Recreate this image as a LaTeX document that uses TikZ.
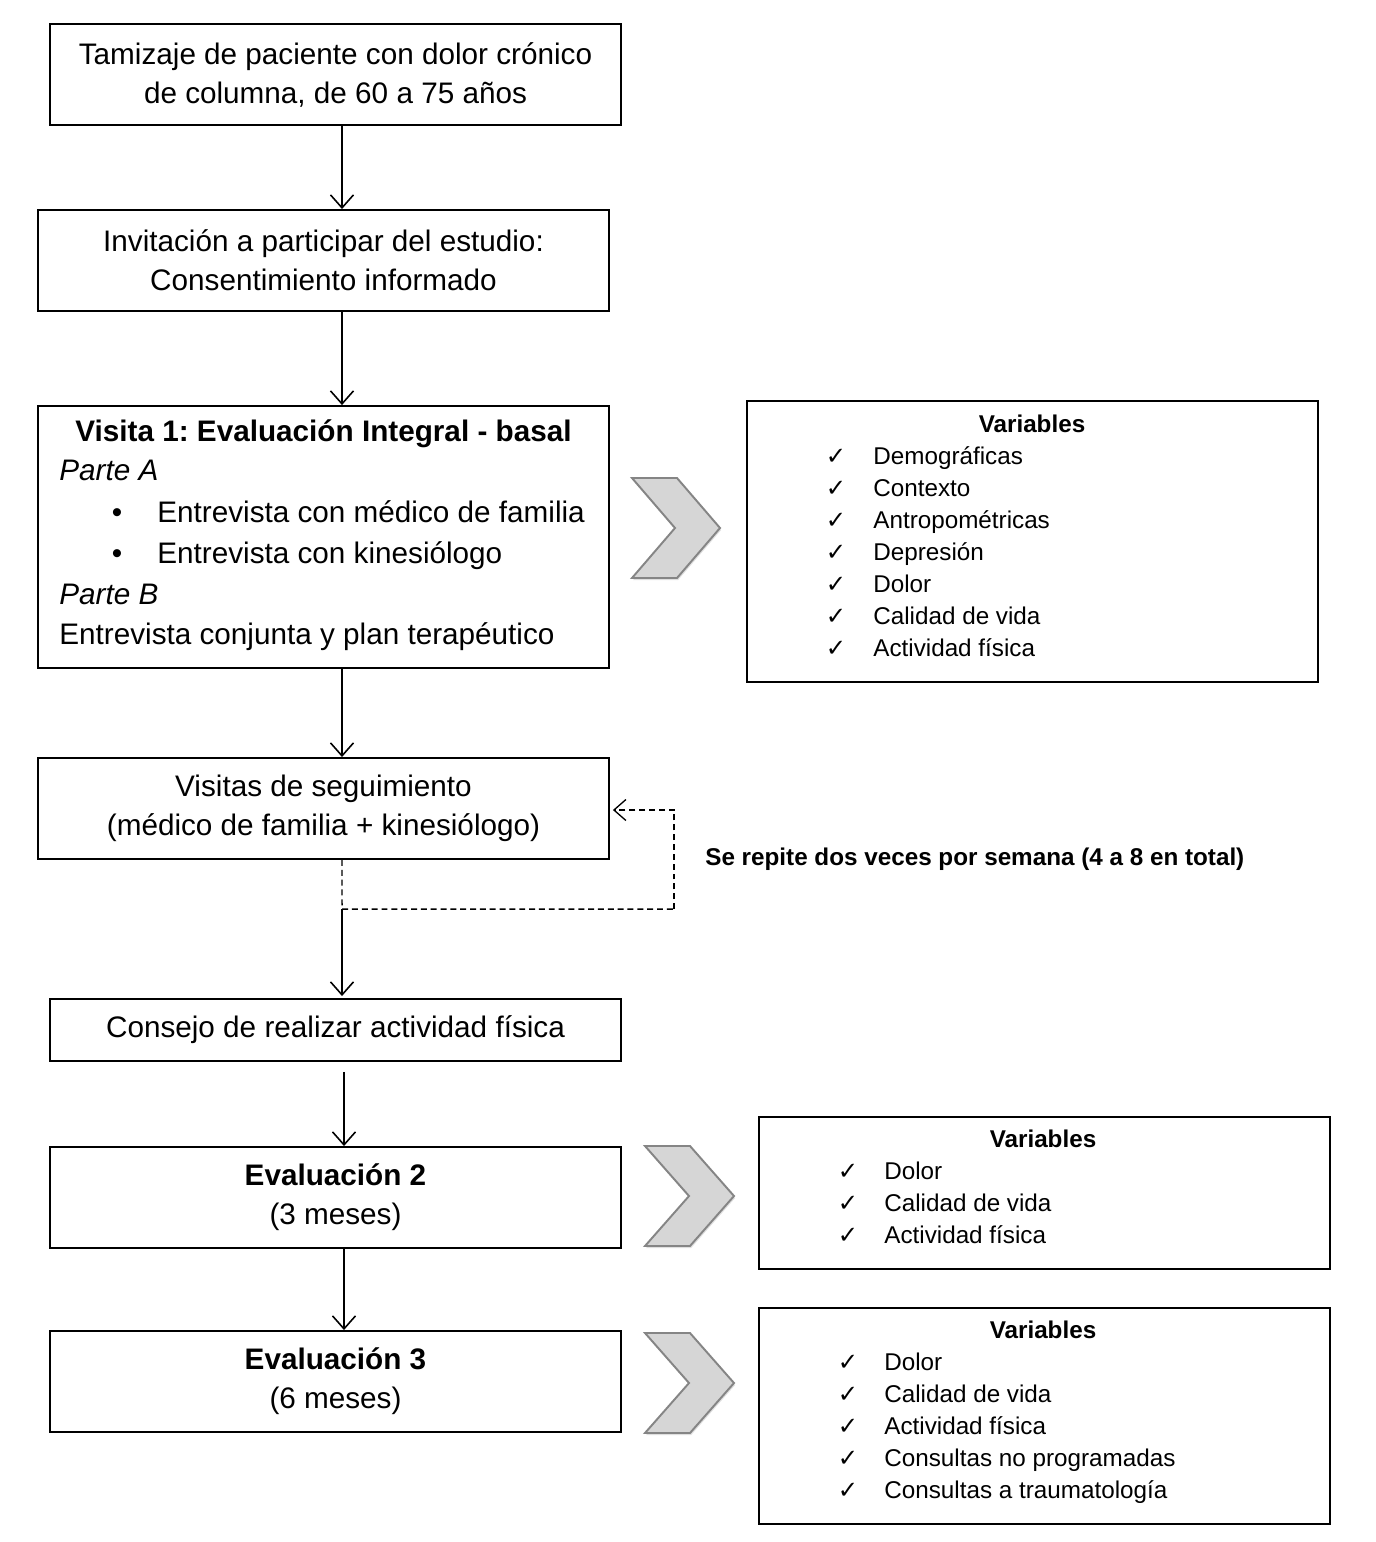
\documentclass[tikz,border=0pt]{standalone}
\usepackage{fontspec}
\setmainfont{Liberation Sans}
\newfontfamily\symfont{DejaVu Sans}
\usetikzlibrary{arrows.meta,shadows}
\frenchspacing
\tikzset{
  box/.style={draw,line width=1.1pt,inner sep=0pt,minimum width=11.42cm,align=center,font=\mainsz},
  arr/.style={line width=0.9pt,-{Straight Barb[length=2.6mm,width=4.6mm,line width=0.9pt]}},
  dsh/.style={line width=0.85pt,dash pattern=on 3.4pt off 2.2pt},
  chev/.style={fill=black!16,draw=black!48,line width=1.1pt,line join=miter,
    drop shadow={opacity=0.25,shadow xshift=0.6pt,shadow yshift=-1.2pt}},
  mt/.style={anchor=west,inner sep=0pt,text height=12.2pt,text depth=0pt,font=\mainsz},
  mc/.style={anchor=center,inner sep=0pt,text height=12.2pt,text depth=0pt,font=\mainsz},
  vt/.style={anchor=west,inner sep=0pt,text height=9.9pt,text depth=0pt,font=\varsz},
  vh/.style={anchor=center,inner sep=0pt,text height=9.9pt,text depth=0pt,font=\varsz\bfseries},
  ck/.style={anchor=center,inner sep=0pt,text height=9.9pt,text depth=0pt,font=\varsz\symfont},
}
\newcommand{\mainsz}{\fontsize{16.9}{22.2}\selectfont}
\newcommand{\varsz}{\fontsize{13.8}{18.2}\selectfont}
\begin{document}
\begin{tikzpicture}[x=0.02cm,y=-0.02cm]
\useasboundingbox (0,0) rectangle (1376,1542);

% main boxes
\node[box,minimum height=2.02cm] (t1) at (335.5,74.5) {Tamizaje de paciente con dolor crónico\\de columna, de 60 a 75 años};
\node[box,minimum height=2.02cm] (t2) at (323.5,260.5) {Invitación a participar del estudio:\\Consentimiento informado};
\node[box,minimum height=5.24cm] (t3) at (323.5,537) {};
\node[box,minimum height=2.02cm] (seg) at (323.5,808.5) {Visitas de seguimiento\\(médico de familia + kinesiólogo)};
\node[box,minimum height=1.24cm] (cons) at (335.5,1030) {Consejo de realizar actividad física};
\node[box,minimum height=2.02cm] (ev2) at (335.5,1197.5) {\textbf{Evaluación 2}\\(3 meses)};
\node[box,minimum height=2.02cm] (ev3) at (335.5,1381.5) {\textbf{Evaluación 3}\\(6 meses)};

% Visita 1 content
\node[mc,font=\mainsz\bfseries] (v1title) at (323.5,431) {Visita 1: Evaluación Integral - basal};
\node[mt,font=\mainsz\itshape] (pa) at (59,470) {Parte A};
\node[mc] (b1) at (117,512) {•};
\node[mt] (e1) at (157,512) {Entrevista con médico de familia};
\node[mc] (b2) at (117,553) {•};
\node[mt] (e2) at (157,553) {Entrevista con kinesiólogo};
\node[mt,font=\mainsz\itshape] (pb) at (59,594) {Parte B};
\node[mt] (ec) at (59,634) {Entrevista conjunta y plan terapéutico};

% variable boxes
\node[box,minimum height=5.62cm] (var1) at (1032.5,541.5) {};
\node[box,minimum height=3.04cm] (var2) at (1044.5,1193) {};
\node[box,minimum height=4.32cm] (var3) at (1044.5,1416) {};

\node[vh] (h1) at (1032,424) {Variables};
\foreach \t [count=\i] in {Demográficas,Contexto,Antropométricas,Depresión,Dolor,Calidad de vida,Actividad física}{
  \node[ck] (ca\i) at (836,424+32*\i) {✓};
  \node[vt] (ta\i) at (873,424+32*\i) {\t};
}
\node[vh] (h2) at (1043,1139) {Variables};
\foreach \t [count=\i] in {Dolor,Calidad de vida,Actividad física}{
  \node[ck] (cb\i) at (848,1139+32*\i) {✓};
  \node[vt] (tb\i) at (884,1139+32*\i) {\t};
}
\node[vh] (h3) at (1043,1330) {Variables};
\foreach \t [count=\i] in {Dolor,Calidad de vida,Actividad física,Consultas no programadas,Consultas a traumatología}{
  \node[ck] (cc\i) at (848,1330+32*\i) {✓};
  \node[vt] (tc\i) at (884,1330+32*\i) {\t};
}

% chevrons
\draw[chev] (632,478) -- (677,478) -- (720,528) -- (677,578) -- (632,578) -- (675,528) -- cycle;
\draw[chev] (645,1146) -- (690,1146) -- (734,1196) -- (690,1246) -- (645,1246) -- (689,1196) -- cycle;
\draw[chev] (645,1333) -- (690,1333) -- (734,1383) -- (690,1433) -- (645,1433) -- (689,1383) -- cycle;

% arrows
\draw[arr] ([xshift=0.13cm]t1.south) -- ([xshift=0.37cm]t2.north);
\draw[arr] ([xshift=0.37cm]t2.south) -- ([xshift=0.37cm]t3.north);
\draw[arr] ([xshift=0.37cm]t3.south) -- ([xshift=0.37cm]seg.north);
\coordinate (j) at (342,909);
\coordinate (lp) at (674,909);
\draw[dsh] ([xshift=0.37cm]seg.south) -- (j) -- (lp);
\draw[dsh,-{Straight Barb[length=2.4mm,width=4.2mm,line width=0.75pt]}] (lp) |- ([yshift=-0.03cm,xshift=0.06cm]seg.east);
\draw[arr] (j) -- ([xshift=0.13cm,yshift=0.04cm]cons.north);
\draw[arr] ([xshift=0.17cm,yshift=-0.2cm]cons.south) -- ([xshift=0.17cm]ev2.north);
\draw[arr] ([xshift=0.17cm]ev2.south) -- ([xshift=0.17cm]ev3.north);

\node[anchor=west,inner sep=0pt,text height=9.9pt,text depth=0pt,font=\fontsize{13.8}{16}\selectfont\bfseries] (rep) at (705,857) {Se repite dos veces por semana (4 a 8 en total)};
\end{tikzpicture}
\end{document}
